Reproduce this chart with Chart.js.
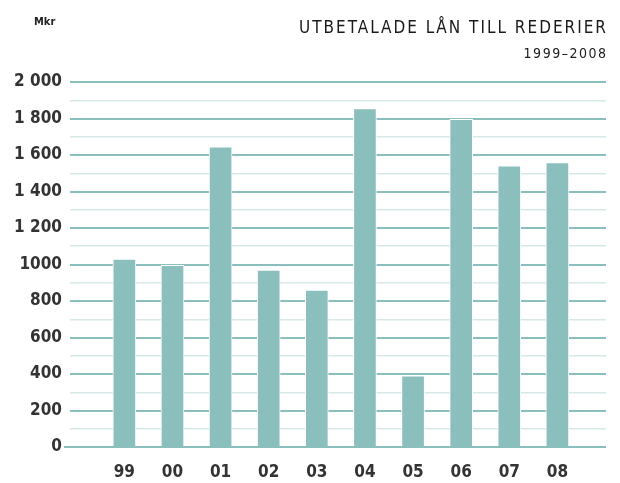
<!DOCTYPE html>
<html>
<head>
<meta charset="utf-8">
<script src="https://cdn.jsdelivr.net/npm/chart.js@4"></script>
<style>
body{margin:0;background:#fff}
#wrap{position:relative;width:620px;height:483px}
#unit{position:absolute;left:34px;top:15px;font:bold 11px "DejaVu Sans Condensed",sans-serif;color:#222}
.title{position:absolute;right:14px;text-align:right;font-family:"DejaVu Sans Condensed",sans-serif;color:#1a1a1a;white-space:nowrap}
#t1{top:17px;font-size:17px;letter-spacing:2px;margin-right:-2px}
#t2{top:45px;font-size:14px;letter-spacing:1.5px;margin-right:-1.5px}
</style>
</head>
<body>
<div id="wrap">
<canvas id="chart" width="620" height="483"></canvas>
<div id="unit">Mkr</div>
<div class="title" id="t1">UTBETALADE LÅN TILL REDERIER</div>
<div class="title" id="t2">1999–2008</div>
</div>
<script>

const years=["99","00","01","02","03","04","05","06","07","08"]
const loans=[1030,995,1645,970,860,1855,390,1795,1540,1558]
const yLabels={0:"0",200:"200",400:"400",600:"600",800:"800",1000:"1000",1200:"1 200",1400:"1 400",1600:"1 600",1800:"1 800",2000:"2 000"}

const teal="#8bbfbe"
const light="#d6e9e8"

const points=loans.map((v,i)=>({x:i,y:v}))

new Chart(document.getElementById("chart"),{
type:"bar",
data:{
datasets:[{
data:points,
backgroundColor:teal,
borderColor:"#ffffff",
borderWidth:{left:1,right:1,top:1},
barThickness:23
}]
},
options:{
responsive:false,
animation:false,
layout:{padding:{top:82,right:14,left:0,bottom:0}},
plugins:{legend:{display:false},tooltip:{enabled:false}},
scales:{
x:{
type:"linear",
offset:false,
min:-1.13,
max:10.01,
afterBuildTicks:s=>{s.ticks=years.map((_,i)=>({value:i}))},
afterFit:s=>{s.height=36},
grid:{display:false},
border:{display:false},
ticks:{
padding:7,
color:"#333",
font:{family:"DejaVu Sans Condensed",size:17,weight:"bold"},
callback:v=>years[v]
}
},
y:{
min:0,
max:2000,
afterFit:s=>{s.width=70},
border:{display:false},
grid:{
color:c=>c.tick.value%200===0?teal:light,
lineWidth:c=>c.tick.value%200===0?2:1.5,
tickLength:6,
tickColor:c=>c.tick.value===0?teal:"rgba(0,0,0,0)",
tickWidth:2
},
ticks:{
stepSize:100,
autoSkip:false,
padding:2,
color:"#333",
font:{family:"DejaVu Sans Condensed",size:17,weight:"bold"},
callback:v=>yLabels[v]!==undefined?yLabels[v]:""
}
}
}
}
})

</script>
</body>
</html>
